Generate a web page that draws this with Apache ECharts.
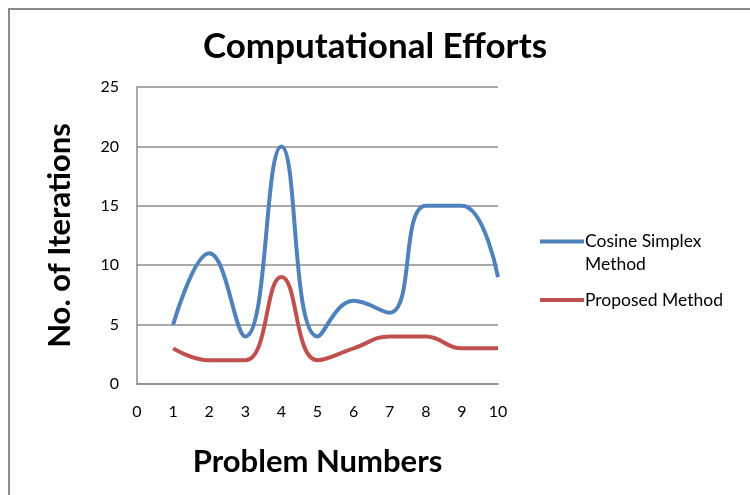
<!DOCTYPE html>
<html>
<head>
<meta charset="utf-8">
<script src="https://cdn.jsdelivr.net/npm/echarts@6/dist/echarts.min.js"></script>
<style>
  html, body { margin: 0; padding: 0; background: #fff; }
  #main { width: 750px; height: 495px; }
</style>
</head>
<body>
<div id="main"></div>
<script>
// 数据
var problems = [1, 2, 3, 4, 5, 6, 7, 8, 9, 10];
var cosineSimplex = [5, 11, 4, 20, 4, 7, 6, 15, 15, 9];
var proposed = [3, 2, 2, 9, 2, 3, 4, 4, 3, 3];
var seriesNames = ["Cosine Simplex Method", "Proposed Method"];

function pairs(xs, ys) {
  return xs.map(function (x, i) { return [x, ys[i]]; });
}

var myChart = echarts.init(document.getElementById("main"));
var font = "Lato, 'Open Sans', sans-serif";

var option = {
  animation: false,
  color: ["#4F81BD", "#C0504D"],
  title: {
    text: "Computational Efforts",
    left: "center",
    top: 24,
    textStyle: { fontFamily: font, fontSize: 35, fontWeight: "bold", color: "#000" }
  },
  graphic: [{
    type: "rect",
    shape: { x: 9, y: 9, width: 800, height: 600 },
    style: { fill: null, stroke: "#8c8c8c", lineWidth: 2 },
    silent: true
  }],
  legend: [{
    data: [seriesNames[0]],
    left: 535,
    top: 202,
    itemWidth: 44,
    itemHeight: 4,
    itemGap: 2,
    icon: "rect",
    // 空的第一行让图例线对齐第一行文字
    formatter: function () { return "\u00a0\nCosine Simplex\nMethod"; },
    textStyle: { fontFamily: font, fontSize: 17.5, color: "#000", lineHeight: 23, padding: [0, 0, 0, -4] }
  }, {
    data: [seriesNames[1]],
    left: 535,
    top: 286,
    itemWidth: 44,
    itemHeight: 4,
    icon: "rect",
    textStyle: { fontFamily: font, fontSize: 17.5, color: "#000", padding: [0, 0, 0, -4] }
  }],
  grid: { left: 137, right: 252, top: 87, bottom: 111 },
  xAxis: {
    type: "value",
    min: 0,
    max: 10,
    interval: 1,
    name: "Problem Numbers",
    nameLocation: "middle",
    nameGap: 62,
    nameTextStyle: { fontFamily: font, fontSize: 31, fontWeight: "bold", color: "#000" },
    axisLine: { show: true, lineStyle: { color: "#8c8c8c", width: 1.5 } },
    axisTick: { show: false },
    splitLine: { show: false },
    axisLabel: { fontFamily: font, fontSize: 16, color: "#000", margin: 20 }
  },
  yAxis: {
    type: "value",
    min: 0,
    max: 25,
    interval: 5,
    name: "No. of Iterations",
    nameLocation: "middle",
    nameGap: 62,
    nameTextStyle: { fontFamily: font, fontSize: 31, fontWeight: "bold", color: "#000" },
    axisLine: { show: true, lineStyle: { color: "#8c8c8c", width: 1.5 } },
    axisTick: { show: false },
    splitLine: { lineStyle: { color: "#8c8c8c", width: 1.5 } },
    axisLabel: { fontFamily: font, fontSize: 16, color: "#000", margin: 18 }
  },
  series: [
    {
      name: seriesNames[0],
      type: "line",
      smooth: 0.45,
      showSymbol: false,
      lineStyle: { width: 4 },
      data: pairs(problems, cosineSimplex)
    },
    {
      name: seriesNames[1],
      type: "line",
      smooth: 0.45,
      showSymbol: false,
      lineStyle: { width: 4 },
      data: pairs(problems, proposed)
    }
  ]
};

myChart.setOption(option);
</script>
</body>
</html>
